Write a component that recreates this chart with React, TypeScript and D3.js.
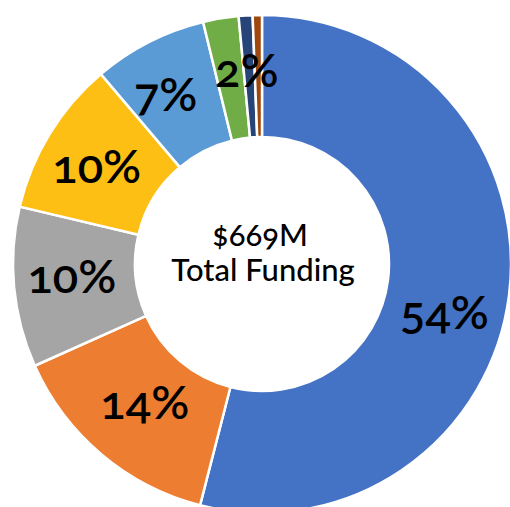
import React from "react";
import * as d3 from "d3";

const categories = ["A", "B", "C", "D", "E", "F", "G", "H"];
const shares = [54.0, 14.3, 10.4, 10.1, 7.4, 2.3, 0.9, 0.6];
const colors = ["#4472C4", "#ED7D31", "#A5A5A5", "#FDBF14", "#5B9BD5", "#70AD47", "#264478", "#9E480E"];
const centerLines = ["$669M", "Total Funding"];
// label nudges (layout only)
const labelNudge = [
  [-4, 23],
  [4, -7],
  [-3, -7],
  [-5, -1],
  [-11, -4],
  [16, -10],
  [0, 0],
  [0, 0],
];

const W = 510;
const H = 507;
const cx = 262;
const cy = 264;
const outerR = 249;
const innerR = 127;

export default function App() {
  const data = categories.map((c, i) => ({ c, v: shares[i], i }));
  const pie = d3
    .pie<any>()
    .value((d) => d.v)
    .sort(null)
    .startAngle(0)
    .endAngle(2 * Math.PI);
  const arcs = pie(data);
  const arc = d3.arc<any>().innerRadius(innerR).outerRadius(outerR);
  const total = d3.sum(shares);
  return (
    <svg
      width={W}
      height={H}
      style={{ position: "absolute", left: 0, top: 0, background: "#fff" }}
    >
      <g transform={`translate(${cx},${cy})`}>
        {arcs.map((a, i) => (
          <path key={i} d={arc(a) as string} fill={colors[i]} stroke="#fff" strokeWidth={2.5} />
        ))}
        {arcs.map((a, i) => {
          const pct = Math.round((a.data.v / total) * 100);
          if (a.data.v < 1) return null;
          const [x, y] = arc.centroid(a);
          return (
            <text
              key={"l" + i}
              x={x + labelNudge[i][0]}
              y={y + labelNudge[i][1]}
              textAnchor="middle"
              dominantBaseline="central"
              fontFamily="Lato, 'Noto Sans', sans-serif"
              fontWeight={600}
              fontSize={47}
              fill="#000"
              style={{ fontVariantNumeric: "oldstyle-nums" }}
            >
              {pct}%
            </text>
          );
        })}
        <text
          x={-2}
          y={-18}
          textAnchor="middle"
          fontFamily="Lato, 'Noto Sans', sans-serif"
          fontWeight={500}
          fontSize={31}
          fill="#000"
          style={{ fontVariantNumeric: "oldstyle-nums" }}
        >
          {centerLines[0]}
        </text>
        <text
          x={1}
          y={17}
          textAnchor="middle"
          fontFamily="Lato, 'Noto Sans', sans-serif"
          fontWeight={500}
          fontSize={31}
          fill="#000"
        >
          {centerLines[1]}
        </text>
      </g>
    </svg>
  );
}
